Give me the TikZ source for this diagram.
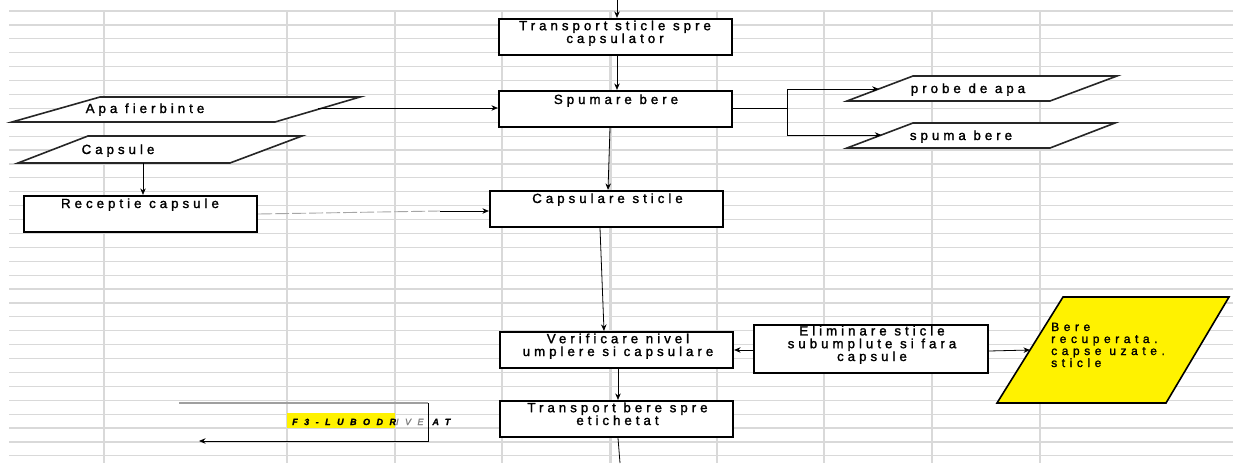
\documentclass[tikz,border=0pt]{standalone}
\usepackage{fontspec}
\setmainfont{Liberation Sans}[LetterSpace=30, FakeBold=1.6]
\usetikzlibrary{calc,arrows.meta}
\begin{document}
\begin{tikzpicture}[x=1pt,y=-1pt,
  grid/.style={draw=gray!30, line width=1.2pt},
  box/.style={draw=black, line width=2.2pt, fill=white, rectangle, inner sep=0pt},
  txt/.style={inner sep=0pt, font=\fontsize{13.3}{12.8}\selectfont, align=center, anchor=base},
  io/.style={draw=black!85, line width=1.6pt, fill=white},
  conn/.style={draw=black, line width=0.8pt, -{Stealth[length=6.5pt,width=5.5pt]}},
  plain/.style={draw=black, line width=0.8pt}]
\useasboundingbox (0,0) rectangle (1233,463);
\fill[white] (0,0) rectangle (1233,463);
% spreadsheet grid
\foreach \k in {0,...,32} \draw[grid] (9,{11+13.9*\k}) -- (1233,{11+13.9*\k});
\foreach \x in {104,287,395,502,717,824,932,1040} \draw[grid] (\x,11) -- (\x,463);
\draw[grid, line width=3pt] (610,11) -- (610,463);

% process boxes
\node[box, minimum width=233pt, minimum height=36pt] (tr1) at (615.5,37) {};
\node[box, minimum width=233pt, minimum height=36pt] (spum) at (615.5,109) {};
\node[box, minimum width=233pt, minimum height=36pt] (caps) at (606.5,209) {};
\node[box, minimum width=233pt, minimum height=36pt] (rec) at (140.5,214) {};
\node[box, minimum width=233pt, minimum height=36pt] (verif) at (616.5,350) {};
\node[box, minimum width=234pt, minimum height=48pt] (elim) at (871,349) {};
\node[box, minimum width=233pt, minimum height=36pt] (tr2) at (616.5,419) {};

% (for multi-line texts the base anchor is the last line's baseline)
\node[txt] (tr1t) at (615,43) {Transport sticle spre\\capsulator};
\node[txt] (spumt) at (616,104) {Spumare bere};
\node[txt] (capst) at (607.5,203) {Capsulare sticle};
\node[txt] (rect) at (140,208) {Receptie capsule};
\node[txt] (verift) at (618,356) {Verificare nivel\\umplere si capsulare};
\node[txt] (elimt) at (872,361) {Eliminare sticle\\subumplute si fara\\capsule};
\node[txt] (tr2t) at (617.5,425) {Transport bere spre\\etichetat};

% input / output parallelograms
\draw[io] (100,97) coordinate (apa1) -- (360,97) coordinate (apa2) -- (275,122) coordinate (apa3) -- (12,122) coordinate (apa4) -- cycle;
\node[txt] (apat) at (145,113) {Apa fierbinte};
\draw[io] (88,136) coordinate (cap1) -- (302,136) coordinate (cap2) -- (230,163) coordinate (cap3) -- (18,163) coordinate (cap4) -- cycle;
\node[txt] (capt) at (118,154) {Capsule};
\draw[io] (913,76) coordinate (pr1) -- (1117,76) coordinate (pr2) -- (1050,101) coordinate (pr3) -- (847,101) coordinate (pr4) -- cycle;
\node[txt] (prt) at (968,93) {probe de apa};
\draw[io] (913,123) coordinate (sp1) -- (1115,123) coordinate (sp2) -- (1050,148) coordinate (sp3) -- (847,148) coordinate (sp4) -- cycle;
\node[txt] (spt) at (961,140) {spuma bere};
\draw[io, fill=yellow, draw=black] (1063,297) coordinate (ye1) -- (1229,297) coordinate (ye2) -- (1166,403) coordinate (ye3) -- (997,403) coordinate (ye4) -- cycle;
\node[txt, align=left, anchor=base west, font=\fontsize{12}{12}\selectfont\addfontfeatures{LetterSpace=38}] (yet) at (1051,367) {Bere\\recuperata.\\capse uzate.\\sticle};

% connection points
\coordinate (top) at (617,0);
\coordinate (apaR) at (318,108);
\coordinate (capB) at (143,163);
\coordinate (split) at (787,108);
\coordinate (prL) at ($(pr4)!0.48!(pr1)$);
\coordinate (spL) at ($(sp4)!0.52!(sp1)$);
\coordinate (yeL) at ($(ye4)!0.5!(ye1)$);
\coordinate (bottom) at (620,463);

% connectors
\draw[conn] (top) -- (top |- tr1.north);
\draw[conn] ([xshift=1.5pt]tr1.south) -- ([xshift=1.5pt]spum.north);
\draw[conn] (apaR) -- (apaR -| spum.west);
\draw[plain] (spum.east |- split) -- (split);
\draw[plain] (split |- prL) -- (split |- spL);
\draw[conn] (split |- prL) -- (prL);
\draw[conn] (split |- spL) -- (spL);
\draw[conn] ([xshift=-5.5pt]spum.south) -- ([xshift=1.5pt]caps.north);
\draw[conn] (capB) -- (capB |- rec.north);
\draw[draw=gray!70, line width=0.9pt, dash pattern=on 14pt off 3pt] (rec.east) -- ([yshift=-2pt]caps.west -| 440,0);
\draw[conn] ([yshift=-2pt]caps.west -| 440,0) -- ([yshift=-2pt]caps.west);
\draw[conn] ([xshift=-6.5pt]caps.south) -- ([xshift=-12.5pt]verif.north);
\draw[conn] (elim.west |- verif.east) -- (verif.east);
\draw[conn] ([yshift=-2pt]elim.east) -- (yeL);
\draw[conn] ([xshift=1.5pt]verif.south) -- ([xshift=1.5pt]tr2.north);
\draw[plain] ([xshift=1.5pt]tr2.south) -- (bottom);

% lower-left loop with label
\fill[yellow] (287,413) rectangle (395,428);
\coordinate (lp1) at (179,403);
\coordinate (lp2) at (428,403);
\coordinate (lp3) at (428,441);
\coordinate (lp4) at (199,441);
\draw[draw=gray!75, line width=1.6pt] (lp1) -- (lp2);
\draw[conn] (lp2) -- (lp3) -- (lp4);
\node[inner sep=0pt, anchor=base west, font=\fontsize{9}{9}\selectfont\bfseries\itshape\addfontfeatures{LetterSpace=72}] (f3) at (292,425) {F3-LUBODR{\mdseries\color{gray}IVE} AT};
\end{tikzpicture}
\end{document}
